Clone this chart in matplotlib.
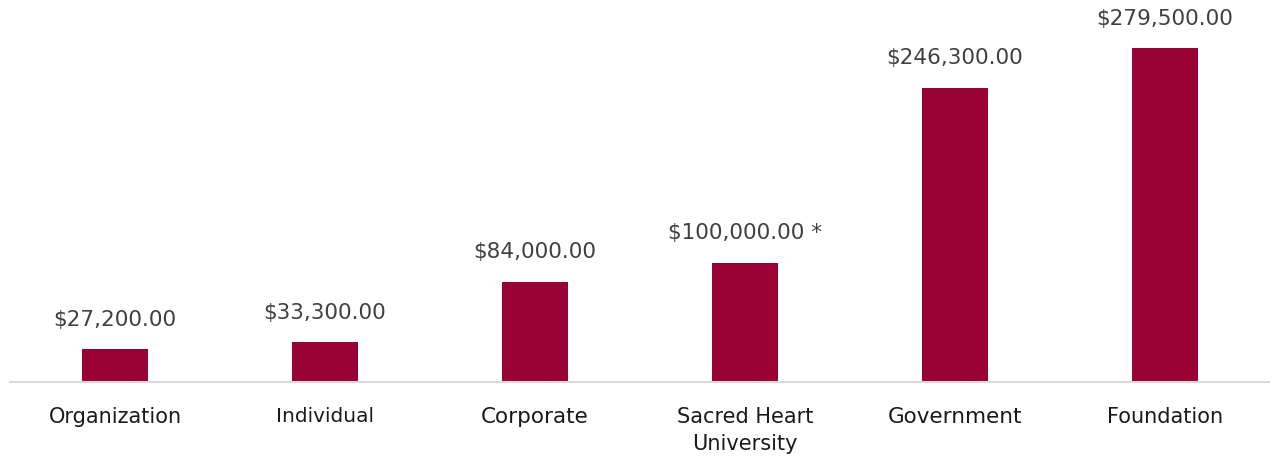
import matplotlib
matplotlib.use("Agg")
import matplotlib.pyplot as plt

categories = ["Organization", "Individual", "Corporate", "Sacred Heart\nUniversity", "Government", "Foundation"]
values = [27200, 33300, 84000, 100000, 246300, 279500]
value_labels = ["$27,200.00", "$33,300.00", "$84,000.00", "$100,000.00 *", "$246,300.00", "$279,500.00"]
label_sizes = [15, 14.5, 15.5, 15, 15.5, 15]

plt.rcParams['font.family'] = ['DejaVu Sans']

fig = plt.figure(figsize=(12.7, 4.58), dpi=100)
ax = fig.add_axes([10/1270, 76/458, 1260/1270, 382/458])
x = list(range(len(categories)))
ax.bar(x, values, width=0.314, color="#990033", zorder=2)
ax.set_xlim(-0.5, len(categories) - 0.5)
ax.set_ylim(0, 319700)

for xi, v, lab in zip(x, values, value_labels):
    ax.annotate(lab, (xi, v), xytext=(0, 14), textcoords="offset points",
                ha="center", va="bottom", fontsize=15.5, color="#404040")

for s in ["top", "right", "left"]:
    ax.spines[s].set_visible(False)
ax.spines["bottom"].set_color("#d9d9d9")
ax.spines["bottom"].set_linewidth(1.5)
ax.set_yticks([])
ax.set_xticks(x)
ax.set_xticklabels(categories, color="#1a1a1a", linespacing=1.45)
for t, s in zip(ax.get_xticklabels(), label_sizes):
    t.set_fontsize(s)
ax.tick_params(axis="x", length=0, pad=18)

fig.savefig("out.png", dpi=100)
